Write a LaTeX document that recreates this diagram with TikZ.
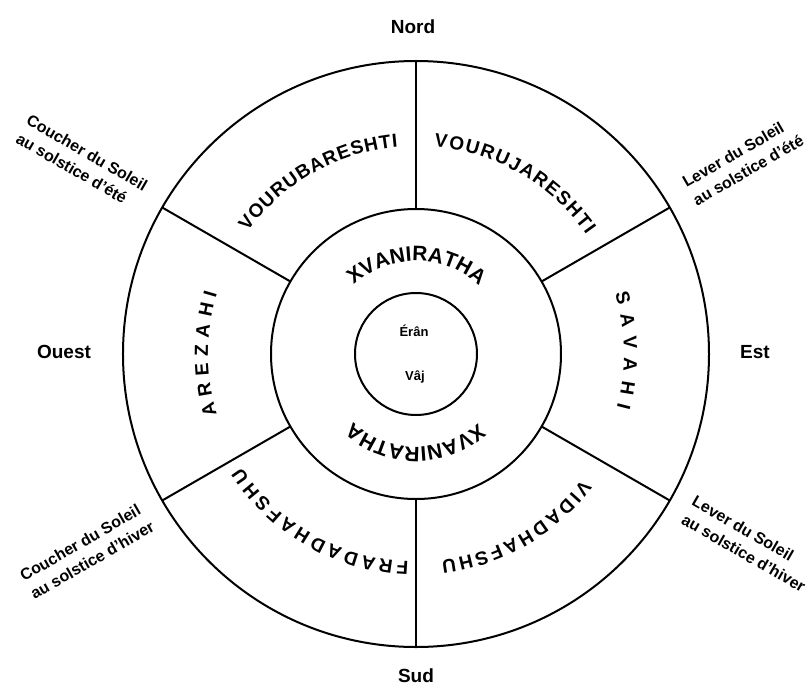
\documentclass[tikz,border=0pt]{standalone}
\usepackage{fontspec}
\setmainfont{Liberation Sans}
\usetikzlibrary{decorations.text}

\newcommand{\sectorfont}{\fontsize{19}{22}\selectfont\bfseries}
\newcommand{\ringfont}{\fontsize{21}{24}\selectfont\bfseries}

\begin{document}
\begin{tikzpicture}[
        x=1pt, y=1pt,
        ring/.style={draw, circle, line width=2pt, inner sep=0pt, outer sep=0pt, minimum size=#1},
        spoke/.style={line width=2pt},
        compass/.style={font=\fontsize{19}{22}\selectfont\bfseries, inner sep=0pt},
        solstice/.style={font=\fontsize{16}{21}\selectfont\bfseries, align=left, rotate=#1, inner sep=0pt},
        centre/.style={font=\fontsize{13}{15}\selectfont\bfseries, inner sep=0pt},
        arclabel/.style={decorate, decoration={text along path, text align=fit to path, text={#1}}},
    ]
        \useasboundingbox (-416,-335) rectangle (392,354);

        %--- Cercles ---
        \node[ring=586pt] (outer)  at (0,0) {};
        \node[ring=290pt] (middle) at (0,0) {};
        \node[ring=122pt] (inner)  at (0,0) {};

        \draw[spoke] (middle.30)  -- (outer.30);
        \draw[spoke] (middle.90)  -- (outer.90);
        \draw[spoke] (middle.150) -- (outer.150);
        \draw[spoke] (middle.210) -- (outer.210);
        \draw[spoke] (middle.270) -- (outer.270);
        \draw[spoke] (middle.330) -- (outer.330);

        %--- Keshvars ---
        {\sectorfont
        \path[arclabel=VOURUBARESHTI] (144:208) arc[start angle=144, end angle=95, radius=208];
        \path[arclabel=VOURUJARESHTI] (85:208)  arc[start angle=85,  end angle=35, radius=208];
        \path[arclabel=SAVAHI]        (17:208)  arc[start angle=17,  end angle=-15, radius=208];
        \path[arclabel=VIDADHAFSHU]   (323:208) arc[start angle=323, end angle=277, radius=208];
        \path[arclabel=FRADADHAFSHU]  (268:208) arc[start angle=268, end angle=213, radius=208];
        \path[arclabel=AREZAHI]       (197:208) arc[start angle=197, end angle=163, radius=208];
        }

        {\ringfont
        \path[arclabel=XVANIRATHA] (132:93) arc[start angle=132, end angle=48, radius=93];
        \path[arclabel=XVANIRATHA] (312:93) arc[start angle=312, end angle=228, radius=93];
        }

        %--- Centre ---
        \node[centre] (eran) at (-2,23)  {Érân};
        \node[centre] (vaj)  at (-1,-23) {Vâj};

        %--- Points cardinaux ---
        \node[compass] (nord)  at (-3,327)  {Nord};
        \node[compass] (sud)   at (0,-322)  {Sud};
        \node[compass] (ouest) at (-352,2)  {Ouest};
        \node[compass] (est)   at (339,2)   {Est};

        %--- Solstices ---
        \node[solstice=-30] (couchEte)   at (-334,192)  {Coucher du Soleil\\au solstice d'été};
        \node[solstice=30]  (leverEte)   at (327,193)   {Lever du Soleil\\au solstice d'été};
        \node[solstice=30]  (couchHiver) at (-329,-197) {Coucher du Soleil\\au solstice d'hiver};
        \node[solstice=-30] (leverHiver) at (333,-190)  {Lever du Soleil\\au solstice d'hiver};
\end{tikzpicture}
\end{document}
